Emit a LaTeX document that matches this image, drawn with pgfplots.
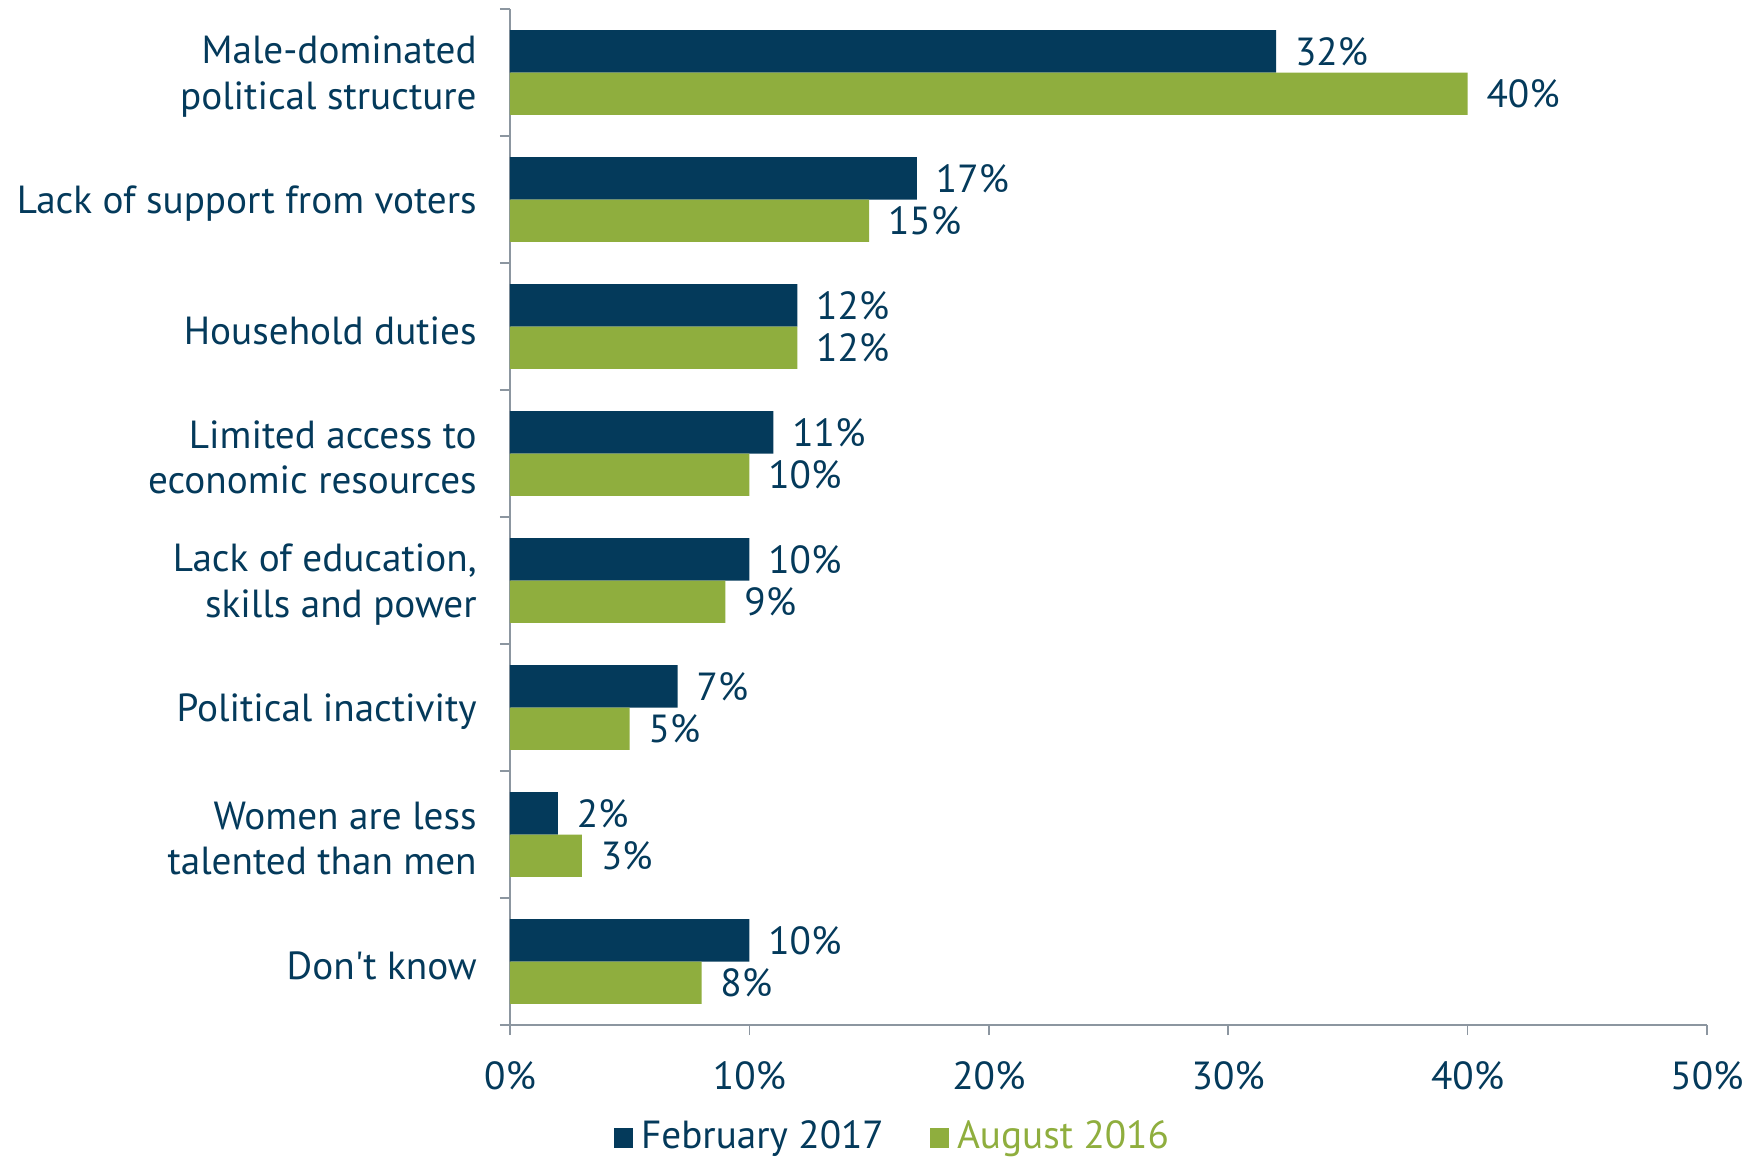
\documentclass[border=0pt]{standalone}
\usepackage{fontspec}
\setmainfont{PT Sans}
\usepackage{pgfplots}
\pgfplotsset{compat=1.18}
\definecolor{navy}{HTML}{043A5B}
\definecolor{grn}{HTML}{8FAE3E}
\definecolor{axgray}{HTML}{8C96A0}
\begin{document}
\begin{tikzpicture}
\useasboundingbox (0,0) rectangle (438.5pt,289.5pt);
\begin{axis}[
  at={(127.5pt,33.25pt)}, anchor=south west,
  scale only axis, width=299.25pt, height=254pt,
  xbar, bar width=10.6pt,
  xmin=0, xmax=50, ymin=-0.5, ymax=7.5, y dir=reverse,
  axis x line*=bottom, axis y line*=left,
  axis line style={axgray, line width=0.4pt},
  tick align=outside, major tick length=2.5pt,
  tick style={axgray, line width=0.4pt},
  /pgf/number format/assume math mode=true,
  xtick={0,10,...,50}, xticklabels={0\%,10\%,20\%,30\%,40\%,50\%},
  ytick={-0.5,0.5,...,7.5}, yticklabels={},
  extra y ticks={0,1,2,3,4,5,6,7},
  extra y tick labels={{Male-dominated\\political structure},{Lack of support from voters},{Household duties},{Limited access to\\economic resources},{Lack of education,\\skills and power},{Political inactivity},{Women are less\\talented than men},{Don\textquotesingle t know}},
  extra y tick style={major tick length=0pt},
  ticklabel style={font=\fontsize{9.8}{11.3}\selectfont, text=navy},
  y tick label style={align=right, xshift=-4.8pt, yshift=-1pt},
  x tick label style={yshift=-3pt},
  point meta=x,
  nodes near coords={\pgfmathprintnumber{\pgfplotspointmeta}\%},
  nodes near coords align=horizontal,
  every node near coord/.append style={font=\fontsize{9.8}{11.3}\selectfont, text=navy, xshift=1.2pt},
  legend style={at={(0.322,-0.1112)}, anchor=center, draw=none, fill=none,
    legend columns=2, font=\fontsize{9.8}{11.3}\selectfont,
    /tikz/every even column/.append style={column sep=9.5pt}},
  legend image code/.code={\fill[#1] (0pt,-2.4pt) rectangle (4.8pt,2.4pt);},
]
\addplot[fill=navy, draw=none, bar shift=5.3pt] coordinates {(32,0) (17,1) (12,2) (11,3) (10,4) (7,5) (2,6) (10,7)};
\addlegendentry{\textcolor{navy}{February 2017}}
\addplot[fill=grn, draw=none, bar shift=-5.3pt] coordinates {(40,0) (15,1) (12,2) (10,3) (9,4) (5,5) (3,6) (8,7)};
\addlegendentry{\textcolor{grn}{August 2016}}
\end{axis}
\end{tikzpicture}
\end{document}
